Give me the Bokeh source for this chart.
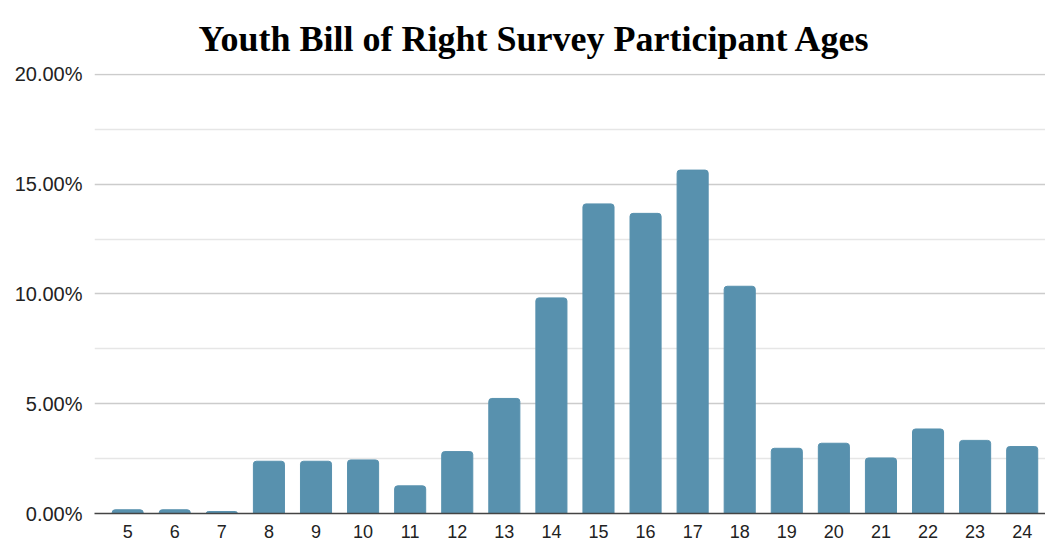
from bokeh.plotting import figure
from bokeh.models import Range1d, FixedTicker, PrintfTickFormatter, ColumnDataSource
from bokeh.embed import file_html
from bokeh.resources import INLINE

ages = [5, 6, 7, 8, 9, 10, 11, 12, 13, 14, 15, 16, 17, 18, 19, 20, 21, 22, 23, 24]
percent = [0.17, 0.17, 0.09, 2.38, 2.38, 2.44, 1.26, 2.82, 5.24, 9.82,
           14.1, 13.67, 15.64, 10.35, 2.97, 3.2, 2.53, 3.85, 3.33, 3.05]
y_ticks = [0, 5, 10, 15, 20]
y_minor = [2.5, 7.5, 12.5, 17.5]

src = ColumnDataSource(dict(age=ages, pct=percent))

p = figure(width=1045, height=544, output_backend="svg", toolbar_location=None,
           x_range=Range1d(4.295, 24.495), y_range=Range1d(0, 20.04),
           min_border_left=94, min_border_right=0, min_border_bottom=31, min_border_top=73)
p.title.text = "Youth Bill of Right Survey Participant Ages"
p.title.align = "left"
p.title.offset = 104
p.title.standoff = 29
p.title.text_font = "Liberation Serif"
p.title.text_font_style = "bold"
p.title.text_font_size = "36px"
p.title.text_color = "#000000"
p.outline_line_color = None

p.vbar(x="age", top="pct", width=0.66, source=src, fill_color="#5891ae",
       line_color="#5891ae", border_radius=(3, 3, 0, 0))

p.xaxis.ticker = FixedTicker(ticks=ages)
p.yaxis.ticker = FixedTicker(ticks=y_ticks, minor_ticks=y_minor)
p.yaxis.formatter = PrintfTickFormatter(format="%.2f%%")
for ax in (p.xaxis, p.yaxis):
    ax.major_tick_line_color = None
    ax.minor_tick_line_color = None
    ax.major_tick_out = 0
    ax.major_tick_in = 0
    ax.minor_tick_out = 0
    ax.minor_tick_in = 0
    ax.major_label_text_font = "Liberation Sans"
    ax.major_label_text_color = "#222222"
p.xaxis.major_label_text_font_size = "18px"
p.yaxis.major_label_text_font_size = "20px"
p.yaxis.axis_line_color = None
p.yaxis.major_label_standoff = 12
p.xaxis.axis_line_color = "#444444"
p.xaxis.axis_line_width = 1.5
p.xaxis.major_label_standoff = 11
p.xgrid.grid_line_color = None
p.ygrid.grid_line_color = "#cccccc"
p.ygrid.grid_line_width = 1.5
p.ygrid.minor_grid_line_color = "#e6e6e6"
p.ygrid.minor_grid_line_width = 1.5

open("out.html", "w").write(file_html(p, INLINE))
